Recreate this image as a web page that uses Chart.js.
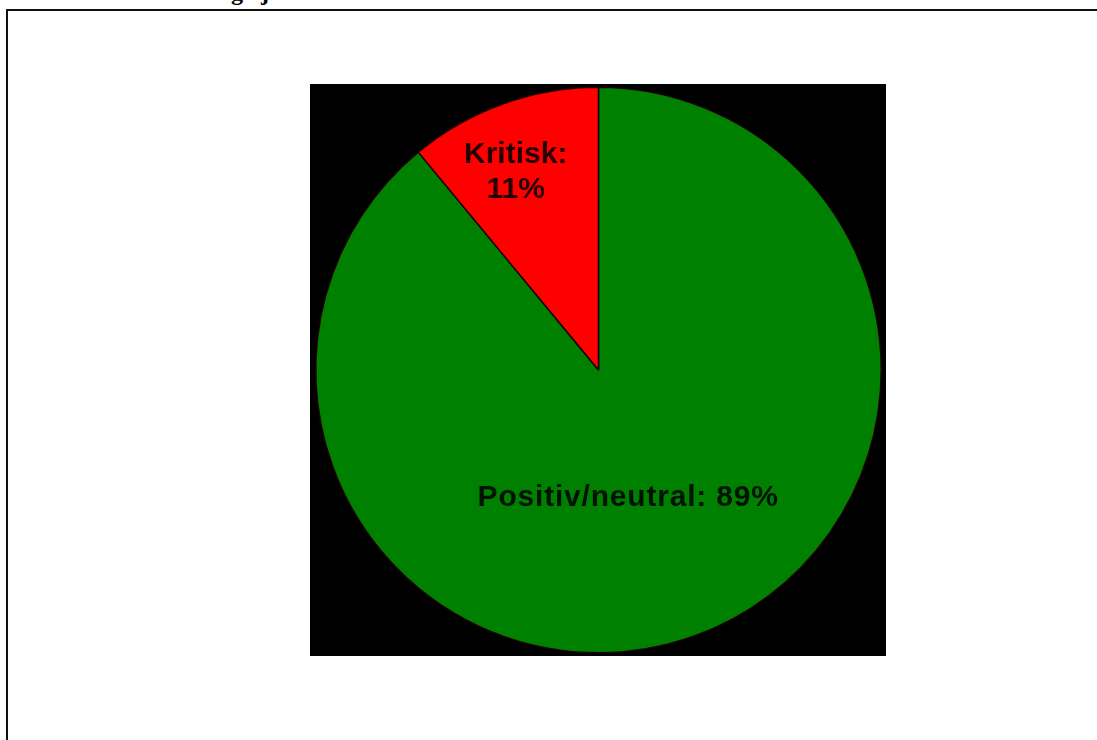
<!DOCTYPE html>
<html>
<head>
<meta charset="utf-8">
<script src="https://cdn.jsdelivr.net/npm/chart.js@4/dist/chart.umd.min.js"></script>
<style>
  html, body { margin: 0; padding: 0; background: #fff; overflow: hidden; }
  #cut { position: absolute; left: 231px; top: -20px; font: bold 24px "Liberation Serif", serif; line-height: 24px; color: #000; white-space: pre; }
  #frame { position: absolute; left: 6px; top: 9px; width: 1100px; height: 740px; border-left: 2px solid #111; border-top: 2px solid #111; }
  #box { position: absolute; left: 310px; top: 84px; width: 576px; height: 572px; background: #000; }
</style>
</head>
<body>
<div id="cut">g   j</div>
<div id="frame"></div>
<div id="box"><canvas id="PieChart"></canvas></div>
<script>
const labels = ["Positiv/neutral", "Kritisk"];
const values = [89, 11];
const colors = ["#008000", "#ff0000"];

// label text lines and where along the radius they sit
const labelLines = [["Positiv/neutral: 89%"], ["Kritisk:", "11%"]];
const labelRadius = [0.463, 0.758];
const labelTurn = [0.117, -0.051];

const sliceLabels = {
  id: 'sliceLabels',
  afterDatasetsDraw(chart) {
    const ctx = chart.ctx;
    const meta = chart.getDatasetMeta(0);
    ctx.save();
    ctx.fillStyle = 'rgba(0,0,0,0.85)';
    ctx.textAlign = 'center';
    ctx.textBaseline = 'middle';
    meta.data.forEach((arc, i) => {
      const p = arc.getProps(['x', 'y', 'startAngle', 'endAngle', 'outerRadius'], true);
      const mid = (p.startAngle + p.endAngle) / 2 + labelTurn[i];
      const r = p.outerRadius * labelRadius[i];
      const cx = p.x + Math.cos(mid) * r;
      const cy = p.y + Math.sin(mid) * r;
      const lines = labelLines[i];
      const lh = 35;
      ctx.font = 'bold 30px "Liberation Sans", Arial, sans-serif';
      ctx.letterSpacing = i === 0 ? '0.8px' : '0px';
      lines.forEach((t, k) => {
        ctx.fillText(t, cx, cy + (k - (lines.length - 1) / 2) * lh);
      });
    });
    ctx.restore();
  }
};

const PIECHART = document.getElementById("PieChart");

let PieChart = new Chart(PIECHART, {
  type: 'pie',
  data: {
    labels: labels,
    datasets: [
      {
        data: values,
        backgroundColor: colors,
        borderColor: "#1a0000",
        borderWidth: 1.5,
      }
    ]
  },
  options: {
    responsive: false,
    animation: false,
    rotation: 0,
    layout: { padding: { left: 5, right: 0, top: 0, bottom: 0 } },
    plugins: {
      legend: { display: false },
      tooltip: { enabled: false }
    }
  },
  plugins: [sliceLabels]
});
PIECHART.width = 576;
PIECHART.height = 572;
PieChart.resize(576, 572);
</script>
</body>
</html>
